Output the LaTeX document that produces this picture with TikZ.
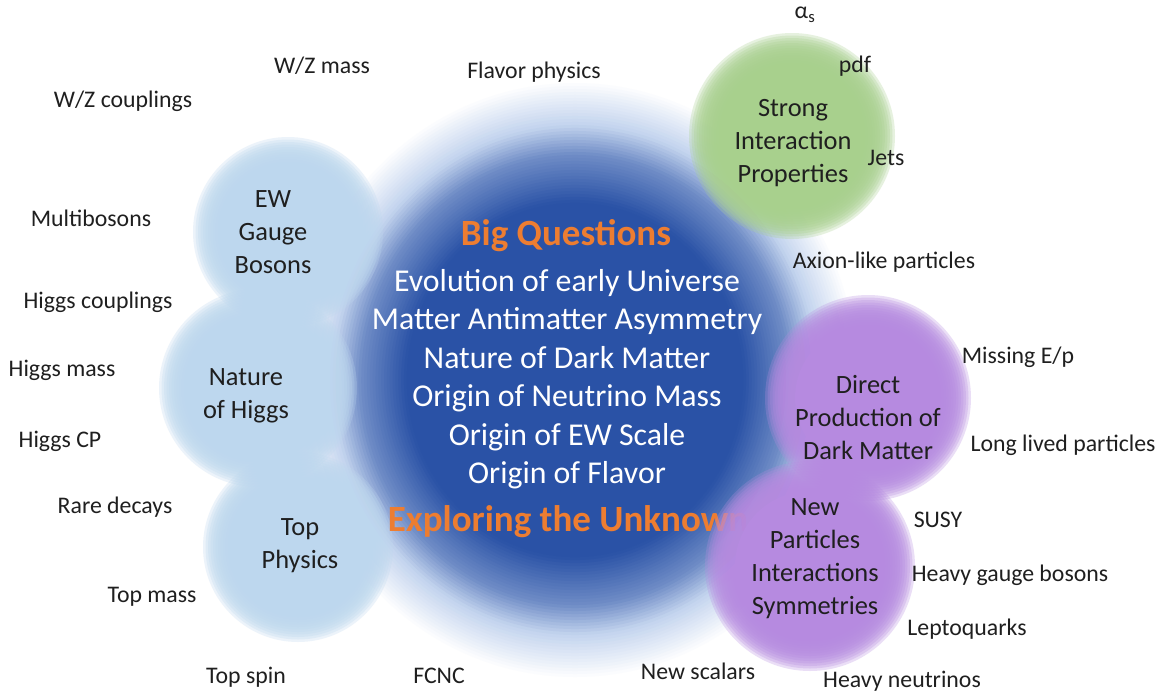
\documentclass[tikz,border=0pt]{standalone}
\usepackage{fontspec}
\setmainfont{Carlito}

\definecolor{blobdark}{HTML}{2A52A6}
\definecolor{blobmid}{HTML}{6F8CC6}
\definecolor{blobpale}{HTML}{C3D4EE}
\definecolor{skyblue}{HTML}{BDD7EE}
\definecolor{leafgreen}{HTML}{A8D08D}
\definecolor{lilac}{HTML}{B68AE0}
\definecolor{accent}{HTML}{ED7D31}
\definecolor{ink}{HTML}{1F1F1F}

% a disc with a soft rim: translucent rings around an opaque core
% #1 centre, #2 radius (pt) at mid-rim, #3 colour
\newcommand\hazydisc[3]{%
  \foreach \k in {0,...,11}{%
    \pgfmathsetmacro\rr{#2+15-\k*2.5}%
    \fill[#3, fill opacity=0.28] (#1) circle[radius=\rr pt];
  }%
  \pgfmathsetmacro\rr{#2-15}%
  \fill[#3] (#1) circle[radius=\rr pt];
}

\tikzset{
  topic/.style={text=ink, font=\fontsize{23.8}{27}\selectfont, inner sep=0pt},
  disctext/.style={text=ink, align=center, font=\fontsize{26.4}{33}\selectfont, inner sep=0pt},
  question/.style={text=white, align=center, font=\fontsize{31.8}{38.5}\selectfont, inner sep=0pt},
  headline/.style={text=accent, font=\fontsize{37}{40}\selectfont\bfseries, inner sep=0pt}
}

\begin{document}
\begin{tikzpicture}[x=1pt,y=-1pt]
\useasboundingbox (0,0) rectangle (1163,694);
\fill[white] (0,0) rectangle (1163,694);

% central blob: nested ellipses, white at the rim through pale and mid blue to a dark core
\coordinate (core) at (575,380);
\foreach \t in {1.00,0.99,...,0.59}{%
  \pgfmathsetmacro\rx{285*\t}%
  \pgfmathsetmacro\ry{300*\t}%
  \pgfmathtruncatemacro\stage{\t>0.855 ? 2 : (\t>0.755 ? 1 : 0)}%
  \ifcase\stage
    \pgfmathsetmacro\pc{min(100,(0.755-\t)/0.16*100)}%
    \fill[blobdark!\pc!blobmid] (core) ellipse[x radius=\rx pt, y radius=\ry pt];
  \or
    \pgfmathsetmacro\pc{(0.855-\t)/0.10*100}%
    \fill[blobmid!\pc!blobpale] (core) ellipse[x radius=\rx pt, y radius=\ry pt];
  \or
    \pgfmathsetmacro\pc{(1.0-\t)/0.145*100}%
    \fill[blobpale!\pc!white] (core) ellipse[x radius=\rx pt, y radius=\ry pt];
  \fi
}

% light blue discs on the left
\coordinate (cew)  at (288,232);
\coordinate (chig) at (258,388);
\coordinate (ctop) at (298,547);
\hazydisc{cew}{80}{skyblue}
\hazydisc{chig}{84}{skyblue}
\hazydisc{ctop}{80}{skyblue}

% green disc
\coordinate (cstrong) at (792,136);
\hazydisc{cstrong}{88}{leafgreen}

% central text
\node[headline] (bigq) at (566,236) {Big Questions};
\node[question] (questions) at (567,379) {Evolution of early Universe\\
  Matter Antimatter Asymmetry\\ Nature of Dark Matter\\
  Origin of Neutrino Mass\\ Origin of EW Scale\\ Origin of Flavor};
\node[headline] (explore) at (568,522) {Exploring the Unknown};

% purple discs
\coordinate (cdm)  at (868,398);
\coordinate (cnew) at (810,566);
\hazydisc{cdm}{88}{lilac}
\hazydisc{cnew}{90}{lilac}

% disc labels
\node[disctext] (ew)     at (273,232) {EW\\Gauge\\Bosons};
\node[disctext] (higgs)  at (246,396) {Nature\\of Higgs};
\node[disctext] (top)    at (300,546) {Top\\Physics};
\node[disctext] (strong) at (793,143) {Strong\\Interaction\\Properties};
\node[disctext] (dm)     at (868,418) {Direct\\Production of\\Dark Matter};
\node[disctext] (newp)   at (815,559) {New\\Particles\\Interactions\\Symmetries};

% surrounding topics
\node[topic] (alphas)  at (805,15)  {α\textsubscript{s}};
\node[topic] (wzmass)  at (322,66)  {W/Z mass};
\node[topic] (flavor)  at (534,72)  {Flavor physics};
\node[topic] (pdf)     at (855,66)  {pdf};
\node[topic] (wzcoup)  at (123,101) {W/Z couplings};
\node[topic] (jets)    at (886,158) {Jets};
\node[topic] (multi)   at (91,218)  {Multibosons};
\node[topic] (axion)   at (884,262) {Axion-like particles};
\node[topic] (hcoup)   at (98,302)  {Higgs couplings};
\node[topic] (hmass)   at (62,370)  {Higgs mass};
\node[topic] (missing) at (1018,357) {Missing E/p};
\node[topic] (hcp)     at (60,441)  {Higgs CP};
\node[topic] (llp)     at (1063,445) {Long lived particles};
\node[topic] (rare)    at (115,507) {Rare decays};
\node[topic] (susy)    at (938,520) {SUSY};
\node[topic] (hgauge)  at (1010,575) {Heavy gauge bosons};
\node[topic] (tmass)   at (152,597) {Top mass};
\node[topic] (lq)      at (967,629) {Leptoquarks};
\node[topic] (tspin)   at (246,677) {Top spin};
\node[topic] (fcnc)    at (439,676) {FCNC};
\node[topic] (newsc)   at (698,671) {New scalars};
\node[topic] (hnu)     at (902,681) {Heavy neutrinos};
\end{tikzpicture}
\end{document}
